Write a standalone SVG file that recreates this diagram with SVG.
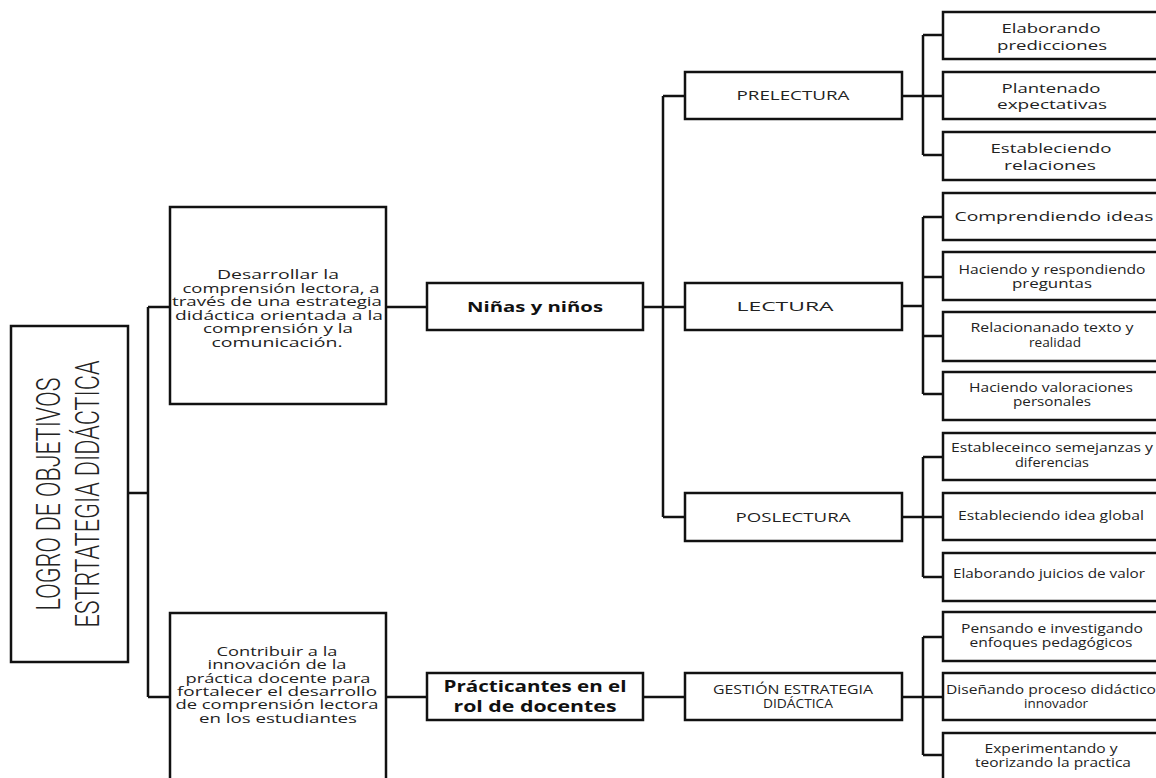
<svg xmlns="http://www.w3.org/2000/svg" width="1156" height="778" viewBox="0 0 1156 778">
<style>
.box{fill:#fff;stroke:#111;stroke-width:2.5}
.ln{fill:none;stroke:#111;stroke-width:2.5}
text{font-family:"Open Sans","DejaVu Sans",sans-serif;fill:#222;text-anchor:middle}
.t15{font-size:13px}
.t14{font-size:13.5px}
.t13{font-size:12.5px}
.t12{font-size:12px}
.b{font-weight:bold;fill:#111}
.root{font-family:Roboto,"Liberation Sans",sans-serif;font-size:34px;font-weight:300}
</style>
<rect width="1156" height="778" fill="#fff"/>
<g id="connectors">
<path class="ln" d="M128,493H148M148,307V697M148,307H170M148,697H170"/>
<path class="ln" d="M386,307H427M643,307H685M663,96V517M663,96H685M663,517H685"/>
<path class="ln" d="M386,697H427M643,697H685"/>
<path class="ln" d="M902,96H923M923,35V155M923,35H943M923,96H943M923,155H943"/>
<path class="ln" d="M902,306H923M923,217V394M923,217H943M923,277H943M923,336H943M923,394H943"/>
<path class="ln" d="M902,517H923M923,457V577M923,457H943M923,517H943M923,577H943"/>
<path class="ln" d="M902,697H923M923,637V755M923,637H943M923,697H943M923,755H943"/>
</g>
<g id="root">
<rect class="box" x="11" y="326" width="117" height="336"/>
<text class="root" transform="translate(60,494) rotate(-90)" textLength="233" lengthAdjust="spacingAndGlyphs">LOGRO DE OBJETIVOS</text>
<text class="root" transform="translate(99,494) rotate(-90)" textLength="267" lengthAdjust="spacingAndGlyphs">ESTRTATEGIA DIDÁCTICA</text>
</g>
<g id="obj1">
<rect class="box" x="170" y="207" width="216" height="197"/>
<text class="t15" x="278" y="279" textLength="122" lengthAdjust="spacingAndGlyphs">Desarrollar la</text>
<text class="t15" x="281" y="292.5" textLength="197" lengthAdjust="spacingAndGlyphs">comprensión lectora, a</text>
<text class="t15" x="277" y="306" textLength="210" lengthAdjust="spacingAndGlyphs">través de una estrategia</text>
<text class="t15" x="279" y="319.5" textLength="208" lengthAdjust="spacingAndGlyphs">didáctica orientada a la</text>
<text class="t15" x="278" y="333" textLength="150" lengthAdjust="spacingAndGlyphs">comprensión y la</text>
<text class="t15" x="277" y="346.5" textLength="131" lengthAdjust="spacingAndGlyphs">comunicación.</text>
</g>
<g id="obj2">
<rect class="box" x="170" y="613" width="216" height="180"/>
<text class="t15" x="277" y="656" textLength="121" lengthAdjust="spacingAndGlyphs">Contribuir a la</text>
<text class="t15" x="277" y="669.3" textLength="139" lengthAdjust="spacingAndGlyphs">innovación de la</text>
<text class="t15" x="278" y="682.6" textLength="185" lengthAdjust="spacingAndGlyphs">práctica docente para</text>
<text class="t15" x="277" y="695.9" textLength="200" lengthAdjust="spacingAndGlyphs">fortalecer el desarrollo</text>
<text class="t15" x="277" y="709.2" textLength="203" lengthAdjust="spacingAndGlyphs">de comprensión lectora</text>
<text class="t15" x="278" y="722.5" textLength="158" lengthAdjust="spacingAndGlyphs">en los estudiantes</text>
</g>
<g id="ninos">
<rect class="box" x="427" y="283" width="216" height="47"/>
<text class="b" style="font-size:15px" x="535" y="312" textLength="136" lengthAdjust="spacingAndGlyphs">Niñas y niños</text>
</g>
<g id="practicantes">
<rect class="box" x="427" y="673" width="216" height="47"/>
<text class="b" style="font-size:16px" x="535" y="692" textLength="183" lengthAdjust="spacingAndGlyphs">Prácticantes en el</text>
<text class="b" style="font-size:16px" x="535" y="712" textLength="163" lengthAdjust="spacingAndGlyphs">rol de docentes</text>
</g>
<g id="prelectura">
<rect class="box" x="685" y="72" width="217" height="47"/>
<text class="t14" x="793" y="100" textLength="113" lengthAdjust="spacingAndGlyphs">PRELECTURA</text>
</g>
<g id="lectura">
<rect class="box" x="685" y="283" width="217" height="47"/>
<text class="t14" x="785" y="311" textLength="97" lengthAdjust="spacingAndGlyphs">LECTURA</text>
</g>
<g id="poslectura">
<rect class="box" x="685" y="493" width="217" height="48"/>
<text class="t14" x="793" y="522" textLength="115" lengthAdjust="spacingAndGlyphs">POSLECTURA</text>
</g>
<g id="gestion">
<rect class="box" x="685" y="673" width="217" height="47"/>
<text class="t13" x="793" y="694" textLength="160" lengthAdjust="spacingAndGlyphs">GESTIÓN ESTRATEGIA</text>
<text class="t13" x="798" y="708" textLength="70" lengthAdjust="spacingAndGlyphs">DIDÁCTICA</text>
</g>
<g id="leaf1">
<rect class="box" x="943" y="12" width="220" height="47"/>
<text class="t14" x="1051" y="33" textLength="99" lengthAdjust="spacingAndGlyphs">Elaborando</text>
<text class="t14" x="1052" y="50" textLength="110" lengthAdjust="spacingAndGlyphs">predicciones</text>
</g>
<g id="leaf2">
<rect class="box" x="943" y="72" width="220" height="47"/>
<text class="t14" x="1051" y="93" textLength="99" lengthAdjust="spacingAndGlyphs">Plantenado</text>
<text class="t14" x="1052" y="109" textLength="110" lengthAdjust="spacingAndGlyphs">expectativas</text>
</g>
<g id="leaf3">
<rect class="box" x="943" y="132" width="220" height="48"/>
<text class="t14" x="1051" y="153" textLength="121" lengthAdjust="spacingAndGlyphs">Estableciendo</text>
<text class="t14" x="1050" y="170" textLength="92" lengthAdjust="spacingAndGlyphs">relaciones</text>
</g>
<g id="leaf4">
<rect class="box" x="943" y="193" width="220" height="47"/>
<text class="t14" x="1054" y="221" textLength="199" lengthAdjust="spacingAndGlyphs">Comprendiendo ideas</text>
</g>
<g id="leaf5">
<rect class="box" x="943" y="252" width="220" height="48"/>
<text class="t12" x="1052" y="274" textLength="187" lengthAdjust="spacingAndGlyphs">Haciendo y respondiendo</text>
<text class="t12" x="1052" y="288" textLength="80" lengthAdjust="spacingAndGlyphs">preguntas</text>
</g>
<g id="leaf6">
<rect class="box" x="943" y="312" width="220" height="49"/>
<text class="t12" x="1052" y="332" textLength="163" lengthAdjust="spacingAndGlyphs">Relacionanado texto y</text>
<text class="t12" x="1055" y="347" textLength="52" lengthAdjust="spacingAndGlyphs">realidad</text>
</g>
<g id="leaf7">
<rect class="box" x="943" y="372" width="220" height="48"/>
<text class="t12" x="1051" y="392" textLength="164" lengthAdjust="spacingAndGlyphs">Haciendo valoraciones</text>
<text class="t12" x="1052" y="406" textLength="78" lengthAdjust="spacingAndGlyphs">personales</text>
</g>
<g id="leaf8">
<rect class="box" x="943" y="433" width="220" height="47"/>
<text class="t12" x="1052" y="452" textLength="202" lengthAdjust="spacingAndGlyphs">Estableceinco semejanzas y</text>
<text class="t12" x="1052" y="467" textLength="74" lengthAdjust="spacingAndGlyphs">diferencias</text>
</g>
<g id="leaf9">
<rect class="box" x="943" y="493" width="220" height="47"/>
<text class="t12" x="1051" y="520" textLength="186" lengthAdjust="spacingAndGlyphs">Estableciendo idea global</text>
</g>
<g id="leaf10">
<rect class="box" x="943" y="553" width="220" height="48"/>
<text class="t12" x="1049" y="578" textLength="192" lengthAdjust="spacingAndGlyphs">Elaborando juicios de valor</text>
</g>
<g id="leaf11">
<rect class="box" x="943" y="612" width="220" height="49"/>
<text class="t12" x="1052" y="633" textLength="182" lengthAdjust="spacingAndGlyphs">Pensando e investigando</text>
<text class="t12" x="1051" y="647" textLength="163" lengthAdjust="spacingAndGlyphs">enfoques pedagógicos</text>
</g>
<g id="leaf12">
<rect class="box" x="943" y="673" width="220" height="47"/>
<text class="t12" x="1051" y="694" textLength="210" lengthAdjust="spacingAndGlyphs">Diseñando proceso didáctico</text>
<text class="t12" x="1056" y="708" textLength="64" lengthAdjust="spacingAndGlyphs">innovador</text>
</g>
<g id="leaf13">
<rect class="box" x="943" y="733" width="220" height="60"/>
<text class="t12" x="1051" y="753" textLength="133" lengthAdjust="spacingAndGlyphs">Experimentando y</text>
<text class="t12" x="1053" y="767" textLength="156" lengthAdjust="spacingAndGlyphs">teorizando la practica</text>
</g>
</svg>
